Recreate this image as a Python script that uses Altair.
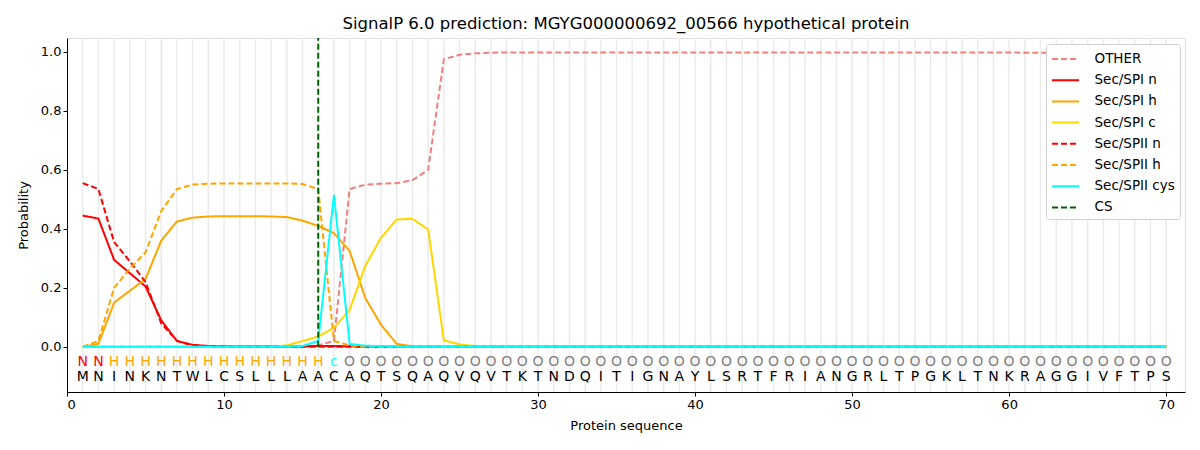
import altair as alt
import pandas as pd

positions = list(range(1, 71))
sequence = list("MNINKNTWLCSLLLAACAQTSQAQVQVTKTNDQITIGNAYLSRTFRIANGRLTPGKLTNKRAGGIVFTPS")
labels = ["N"] * 2 + ["H"] * 14 + ["C"] + ["O"] * 53

other = [0.0, 0.0, 0.0, 0.0, 0.0, 0.0, 0.0, 0.0, 0.0, 0.0, 0.0, 0.0, 0.0, 0.0, 0.001, 0.005, 0.02,
         0.535, 0.55, 0.553, 0.555, 0.565, 0.6, 0.975, 0.99, 0.995, 0.997] + [0.998] * 33 + [0.997] * 10
sp1_n = [0.445, 0.435, 0.295, 0.25, 0.205, 0.09, 0.02, 0.007, 0.003, 0.002, 0.001, 0.001, 0.001, 0.001,
         0.002, 0.003, 0.003, 0.002, 0.001] + [0.0] * 51
sp1_h = [0.0, 0.01, 0.15, 0.19, 0.23, 0.36, 0.425, 0.438, 0.442, 0.443, 0.443, 0.443, 0.442, 0.44,
         0.428, 0.41, 0.385, 0.325, 0.165, 0.075, 0.01, 0.002] + [0.0] * 48
sp1_c = [0.0] * 13 + [0.005, 0.02, 0.035, 0.065, 0.125, 0.275, 0.37, 0.432, 0.434, 0.398, 0.022,
                     0.008, 0.003, 0.001] + [0.0] * 43
sp2_n = [0.555, 0.535, 0.355, 0.29, 0.22, 0.08, 0.02, 0.005, 0.002, 0.001] + [0.0] * 60
sp2_h = [0.0, 0.02, 0.2, 0.265, 0.32, 0.46, 0.535, 0.55, 0.553, 0.554, 0.554, 0.554, 0.554, 0.554,
         0.552, 0.535, 0.02, 0.005, 0.001] + [0.0] * 51
sp2_cys = [0.0] * 14 + [0.003, 0.02, 0.515, 0.01, 0.004, 0.002, 0.001] + [0.0] * 49
cs_pos = [16]

series_names = ["OTHER", "Sec/SPI n", "Sec/SPI h", "Sec/SPI c", "Sec/SPII n", "Sec/SPII h", "Sec/SPII cys", "CS"]
series_colors = ["#f08080", "#ff0000", "#ffa500", "#ffd700", "#ff0000", "#ffa500", "#00ffff", "#006400"]
series_dash = [[6, 3], [1, 0], [1, 0], [1, 0], [6, 3], [6, 3], [1, 0], [6, 3]]

series_values = [other, sp1_n, sp1_h, sp1_c, sp2_n, sp2_h, sp2_cys]
rows = []
for name, vals in zip(series_names[:7], series_values):
    for p, v in zip(positions, vals):
        rows.append({"series": name, "pos": p, "prob": v})
df = pd.DataFrame(rows)

seq_df = pd.DataFrame({"pos": positions, "aa": sequence, "lab": labels})
cs_df = pd.DataFrame({"series": ["CS"], "pos": cs_pos, "y0": [0.0]})

W, H = 1118, 354
xscale = alt.Scale(domain=[0, 71.2], nice=False, zero=False)
yscale = alt.Scale(domain=[-0.153, 1.047], nice=False, zero=False)

color = alt.Color("series:N", scale=alt.Scale(domain=series_names, range=series_colors),
                  legend=alt.Legend(title=None, orient="none", legendX=979, legendY=6,
                                    symbolType="M-1.5,0H1.5", symbolSize=324, symbolStrokeWidth=2,
                                    symbolOffset=4.5,
                                    labelFontSize=13.5, labelFont="DejaVu Sans", rowPadding=4.2,
                                    padding=5, strokeColor="#d0d0d0", cornerRadius=3,
                                    fillColor="white", labelOffset=19))
dash = alt.StrokeDash("series:N", scale=alt.Scale(domain=series_names, range=series_dash), legend=None)

xaxis = alt.Axis(values=list(range(0, 71, 10)), grid=False, title="Protein sequence", tickColor="black",
                 domainColor="black", labelColor="black", titleColor="black", labelFontSize=13,
                 titleFontSize=13, titleFontWeight="normal", labelFont="DejaVu Sans", titleFont="DejaVu Sans",
                 tickSize=4, titlePadding=8)
yaxis = alt.Axis(values=[0, 0.2, 0.4, 0.6, 0.8, 1.0], format=".1f", grid=False, title="Probability",
                 tickColor="black", domainColor="black", labelColor="black", titleColor="black",
                 labelFontSize=13, titleFontSize=13, titleFontWeight="normal", labelFont="DejaVu Sans",
                 titleFont="DejaVu Sans", tickSize=4, titlePadding=10)

grid = alt.Chart(seq_df).mark_rule(color="#ebebeb", strokeWidth=1.5).encode(
    x=alt.X("pos:Q", scale=xscale, axis=xaxis))

lines = alt.Chart(df).mark_line(strokeWidth=2).encode(
    x=alt.X("pos:Q", scale=xscale, axis=xaxis),
    y=alt.Y("prob:Q", scale=yscale, axis=yaxis),
    color=color, strokeDash=dash)

cs = alt.Chart(cs_df).mark_rule(strokeWidth=2).encode(
    x=alt.X("pos:Q", scale=xscale),
    y=alt.Y("y0:Q", scale=yscale),
    y2=alt.value(0),
    color=color, strokeDash=dash)

lab_colors = {"N": "#ff0000", "H": "#ffa500", "C": "#00ffff", "O": "#808080"}
label_layers = []
for lab, col in lab_colors.items():
    sub = seq_df[seq_df["lab"] == lab].copy()
    sub["ly"] = -0.05
    sub["txt"] = "c" if lab == "C" else lab
    label_layers.append(alt.Chart(sub).mark_text(color=col, fontSize=14, font="DejaVu Sans").encode(
        x=alt.X("pos:Q", scale=xscale), y=alt.Y("ly:Q", scale=yscale), text="txt:N"))

seq_df2 = seq_df.copy()
seq_df2["sy"] = -0.103
aa_text = alt.Chart(seq_df2).mark_text(color="black", fontSize=14, font="DejaVu Sans").encode(
    x=alt.X("pos:Q", scale=xscale), y=alt.Y("sy:Q", scale=yscale), text="aa:N")

chart = alt.layer(grid, lines, cs, *label_layers, aa_text).properties(
    width=W, height=H,
    title=alt.Title("SignalP 6.0 prediction: MGYG000000692_00566 hypothetical protein",
                    fontSize=16.5, fontWeight="normal", font="DejaVu Sans", color="black", offset=5),
    autosize=alt.AutoSizeParams(type="none"),
    padding={"left": 59, "top": 30, "right": 7, "bottom": 50},
).configure_view(stroke="black", strokeWidth=1).configure(background="white")

chart.save("out.html", embed_options={"renderer": "svg", "actions": False})
